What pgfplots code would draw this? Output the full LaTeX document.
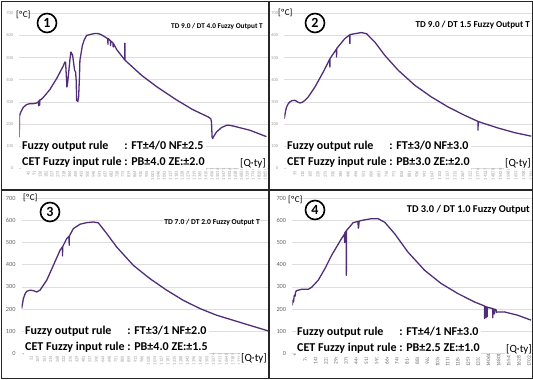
\documentclass[border=0pt]{standalone}
\usepackage{pgfplots}
\pgfplotsset{compat=1.18}
\usepackage{fontspec}
\setmainfont{Carlito}
\definecolor{linecol}{RGB}{80,45,120}
\definecolor{tickA}{RGB}{160,160,160}
\definecolor{tickB}{RGB}{100,100,100}
\definecolor{gridc}{RGB}{222,222,222}
\pgfplotsset{
  panel/.style={
    scale only axis, height=155pt,
    ymin=0, ymax=700, ytick={0,100,...,700},
    xmin=1, enlargelimits=false,
    scaled x ticks=false, scaled y ticks=false,
    ymajorgrids, grid style={draw=gridc, line width=0.6pt},
    axis line style={draw=none}, major tick length=0pt,
    /pgf/number format/assume math mode=true,
    /pgf/number format/set thousands separator={},
    /pgf/number format/fixed, /pgf/number format/precision=0,
    yticklabel style={anchor=east, inner sep=0pt, xshift=-6pt},
    xticklabel style={rotate=90, anchor=east, inner sep=0pt, yshift=-3pt},
  },
  curve/.style={linecol, line width=1.3pt, mark=none, line join=round},
  small ticks/.style={
    yticklabel style={font=\fontsize{4.5}{4.5}\selectfont, text=tickA},
    xticklabel style={font=\fontsize{4.6}{4.6}\selectfont, text=tickA},
  },
}
\begin{document}
\begin{tikzpicture}[x=1pt,y=1pt]
\useasboundingbox (0,0) rectangle (533,380);

% ---------- Panel 1 ----------
\begin{axis}[panel, small ticks, width=248.5pt, at={(19.3pt,211.7pt)}, anchor=south west,
  xmax=19100, xtick={1,456,...,18700}]
\addplot[curve] table {
x y
1 140
12 235
100 252
307 275
563 288
819 292
1075 292
1331 295
1459 300
1480 301
1490 282
1505 304
1560 306
1570 286
1585 309
1700 312
1843 320
2355 356
2867 405
3379 462
3508 480
3559 478
3620 412
3660 367
3700 378
3800 435
3900 495
3969 525
4100 510
4250 443
4330 434
4380 390
4404 307
4500 302
4560 322
4620 405
4660 488
4850 555
5000 581
5172 600
5500 605
5800 609
6100 608
6300 603
6600 593
6800 585
6815 560
6830 586
7000 576
7015 555
7030 575
7200 566
7215 548
7230 564
7500 535
8100 490
8115 565
8130 488
9396 420
10600 367
12000 312
13300 266
14516 232
14721 224
14771 209
14820 141
14870 134
14900 140
15156 164
15540 184
15924 194
16052 195
16436 191
17716 172
18996 143
};
\end{axis}

% ---------- Panel 2 ----------
\begin{axis}[panel, small ticks, width=248pt, at={(284.3pt,211.7pt)}, anchor=south west,
  xmax=17934, xtick={1,552,...,17700}]
\addplot[curve] table {
x y
1 224
97 260
169 277
290 292
410 300
579 306
771 307
1012 298
1132 295
1301 298
1493 307
1734 322
2215 367
2817 435
3290 493
3299 457
3310 496
3770 538
3780 503
3790 541
4382 586
4735 603
4743 563
4755 604
5104 608
5585 613
5946 608
6548 570
7270 510
8233 443
9436 375
10640 322
11843 277
13047 239
14000 212
14010 172
14020 211
15455 182
16657 161
17861 145
};
\end{axis}

% ---------- Panel 3 ----------
\begin{axis}[panel, width=246.6pt, at={(21.7pt,26.7pt)}, anchor=south west,
  xmax=20351, xtick={1,538,...,19900},
  yticklabel style={font=\fontsize{6.3}{6.3}\selectfont, text=tickB},
  xticklabel style={font=\fontsize{4.6}{4.6}\selectfont, text=tickA}]
\addplot[curve] table {
x y
1 202
139 247
276 268
414 280
689 285
964 283
1239 277
1514 285
2064 330
2614 397
3164 465
3356 480
3370 440
3385 482
3714 518
3906 528
3920 488
3935 530
4264 563
4814 583
5364 590
5914 593
6326 589
7014 541
7839 480
9214 397
10589 337
11964 285
13339 239
14714 202
16089 172
17464 149
18839 126
20351 101
};
\end{axis}

% ---------- Panel 4 ----------
\begin{axis}[panel, width=240.3pt, at={(292.3pt,26.7pt)}, anchor=south west,
  xmax=17497, xtick={1,741,...,17100},
  yticklabel style={font=\fontsize{6.3}{6.3}\selectfont, text=tickB},
  xticklabel style={font=\fontsize{5.3}{5.3}\selectfont, text=tickB}]
\addplot[curve] table {
x y
1 217
49 240
90 232
146 262
200 258
243 277
316 283
437 285
679 289
1163 289
1405 298
1889 330
2373 382
2857 442
3220 480
3583 518
3800 538
3815 500
3830 545
3920 552
3935 352
3950 555
4067 563
4430 590
4744 595
4790 596
4800 565
4830 570
4870 597
5034 600
5760 608
6244 608
6728 592
7454 540
8422 457
9632 375
10842 315
12052 270
13262 232
13988 214
14000 157
14015 212
14100 211
14110 160
14125 210
14180 209
14190 165
14205 208
14593 202
14600 160
14610 201
14714 199
14720 178
14730 199
14835 198
14850 186
15440 187
16408 172
17376 150
};
\end{axis}

% ---------- texts ----------
\tikzset{
  rules/.style={anchor=west, fill=white, inner sep=1pt, font=\bfseries\fontsize{12}{14}\selectfont},
  num/.style={circle, draw, line width=1.6pt, minimum size=19pt, inner sep=0pt, font=\bfseries\fontsize{14}{14}\selectfont},
  unit/.style={font=\fontsize{9}{9}\selectfont, inner sep=0pt},
  qty/.style={font=\fontsize{11}{11}\selectfont, inner sep=1pt, fill=white, anchor=east},
}
% panel 1
\node[unit, anchor=west] at (16,365) {[ºC]};
\node[num] at (47,357) {1};
\node[anchor=east, inner sep=0pt, font=\bfseries\fontsize{7.3}{8}\selectfont] at (263,353) {TD 9.0 / DT 4.0 Fuzzy Output T};
\node[rules] at (21,225) {\begin{tabular}{@{}l@{ }l@{}}Fuzzy output rule & : FT±4/0 NF±2.5\\[2pt] CET Fuzzy input rule & : PB±4.0 ZE:±2.0\end{tabular}};
\node[qty] at (267,217) {[Q·ty]};
% panel 2
\node[unit, anchor=west] at (278,367) {[ºC]};
\node[num] at (315,357) {2};
\node[anchor=east, inner sep=0pt, font=\bfseries\fontsize{9.1}{10}\selectfont] at (530,355) {TD 9.0 / DT 1.5 Fuzzy Output T};
\node[rules] at (286,225) {\begin{tabular}{@{}l@{ }l@{}}Fuzzy output rule & : FT±3/0 NF±3.0\\[2pt] CET Fuzzy input rule & : PB±3.0 ZE:±2.0\end{tabular}};
\node[qty] at (532,217) {[Q·ty]};
% panel 3
\node[unit, anchor=west] at (23,182) {[ºC]};
\node[num] at (50,168) {3};
\node[anchor=east, inner sep=0pt, font=\bfseries\fontsize{7.6}{8}\selectfont] at (260,158) {TD 7.0 / DT 2.0 Fuzzy Output T};
\node[rules] at (24,40) {\begin{tabular}{@{}l@{ }l@{}}Fuzzy output rule & : FT±3/1 NF±2.0\\[2pt] CET Fuzzy input rule & : PB±4.0 ZE:±1.5\end{tabular}};
\node[qty] at (268,22) {[Q·ty]};
% panel 4
\node[unit, anchor=west] at (288,180) {[ºC]};
\node[num] at (315,170) {4};
\node[anchor=east, inner sep=0pt, font=\bfseries\fontsize{10.4}{11}\selectfont] at (530,170) {TD 3.0 / DT 1.0 Fuzzy Output};
\node[rules] at (296,39) {\begin{tabular}{@{}l@{ }l@{}}Fuzzy output rule & : FT±4/1 NF±3.0\\[2pt] CET Fuzzy input rule & : PB±2.5 ZE:±1.0\end{tabular}};
\node[qty] at (533,31) {[Q·ty]};

% ---------- frames ----------
\draw[line width=1pt, black!85] (1,1) rectangle (532,378);
\draw[line width=1.6pt, black!85] (269,1) -- (269,378);
\draw[line width=1.6pt, black!85] (1,190) -- (532,190);
\end{tikzpicture}
\end{document}
